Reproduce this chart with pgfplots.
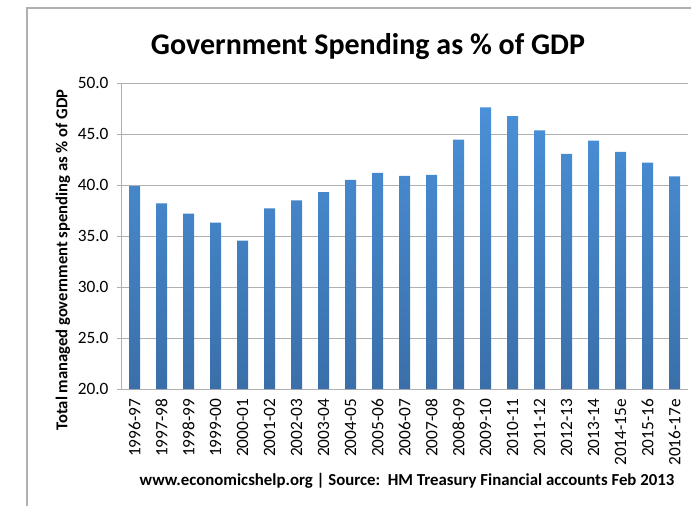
\documentclass[border=0pt]{standalone}
\usepackage{pgfplots}
\pgfplotsset{compat=1.18}
\usepackage{fontspec}
\setmainfont{Carlito}
\definecolor{bartop}{HTML}{4A90D8}
\definecolor{barbot}{HTML}{3A6FA9}
\definecolor{gridc}{HTML}{B0B0B0}
\begin{document}
\begin{tikzpicture}[x=1pt,y=1pt]
\useasboundingbox (0,0) rectangle (691,-506);
\draw[gridc, line width=1.3pt] (27,-506) -- (27,-8) -- (691,-8);
\node[font=\fontsize{30}{33}\selectfont\bfseries] at (368,-47) {Government Spending as \% of GDP};
\begin{axis}[
  at={(121pt,-389pt)}, anchor=south west,
  scale only axis, width=567pt, height=306pt,
  xmin=-0.5, xmax=20.5, ymin=20, ymax=50,
  ytick={20,25,30,35,40,45,50},
  xtick={0,...,20},
  xticklabels={1996-97,1997-98,1998-99,1999-00,2000-01,2001-02,2002-03,2003-04,2004-05,2005-06,2006-07,2007-08,2008-09,2009-10,2010-11,2011-12,2012-13,2013-14,2014-15e,2015-16,2016-17e},
  x tick label style={rotate=90, anchor=east, font=\fontsize{17.3}{19}\selectfont},
  y tick label style={font=\fontsize{17.3}{19}\selectfont, /pgf/number format/.cd, fixed, fixed zerofill, precision=1, assume math mode=true},
  axis x line*=bottom, axis y line*=left,
  axis line style={gridc, line width=1pt, -},
  ymajorgrids, grid style={gridc, line width=1pt},
  major x tick style={draw=none},
  major y tick style={gridc, line width=1pt},
  tick align=outside, major tick length=4pt,
  xticklabel shift=2.5pt, yticklabel shift=5pt,
]
\addplot[ybar, bar width=11pt, draw=none, top color=bartop, bottom color=barbot] coordinates {
(0,39.9) (1,38.2) (2,37.2) (3,36.3) (4,34.55) (5,37.7) (6,38.5) (7,39.3) (8,40.5) (9,41.2) (10,40.9)
(11,41.0) (12,44.45) (13,47.6) (14,46.75) (15,45.35) (16,43.05) (17,44.35) (18,43.25) (19,42.2) (20,40.85)
};
\end{axis}
\node[rotate=90, font=\fontsize{16.6}{18}\selectfont\bfseries] at (63,-260) {Total managed government spending as \% of GDP};
\node[font=\fontsize{16.8}{19}\selectfont\bfseries] at (407,-481) {www.economicshelp.org | Source:\ \ HM Treasury Financial accounts Feb 2013};
\end{tikzpicture}
\end{document}
